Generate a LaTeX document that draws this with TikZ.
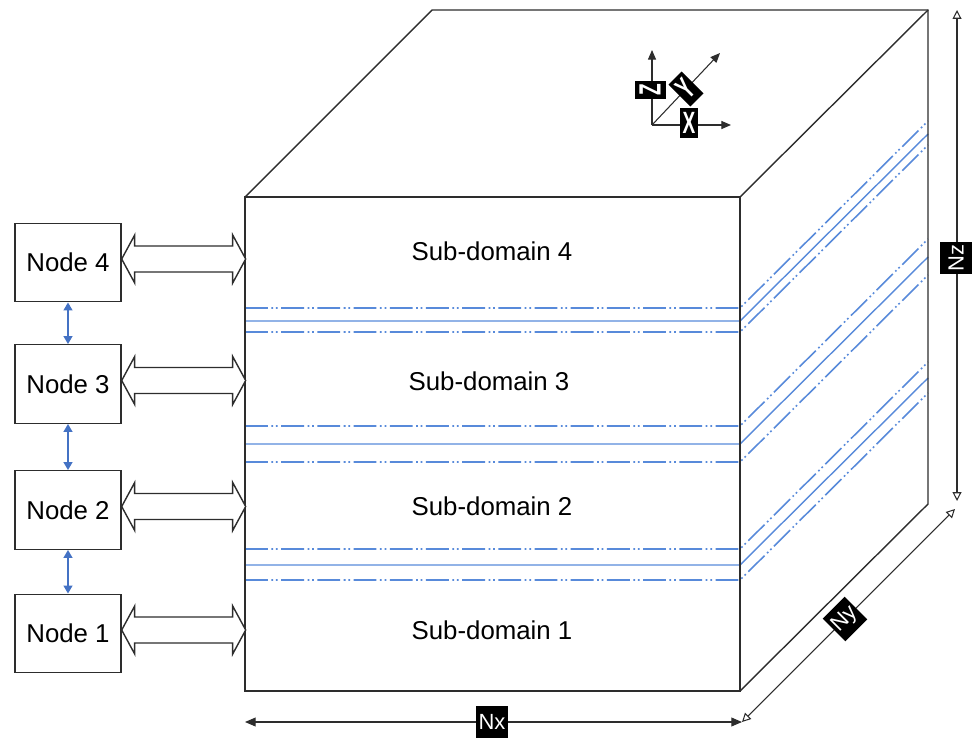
\documentclass[tikz,border=0pt]{standalone}
\usepackage{fontspec}
\usepackage{graphicx}
\setmainfont{Liberation Sans}
\usetikzlibrary{arrows.meta,calc}
\definecolor{ln}{RGB}{45,45,45}
\definecolor{bl}{RGB}{88,138,218}
\definecolor{ba}{RGB}{68,114,196}
\tikzset{
  cubeline/.style={draw=ln, line width=0.8pt},
  nodebox/.style={draw=ln, line width=0.8pt, minimum width=2.12cm, minimum height=1.57cm, inner sep=0pt, font=\fontsize{14.7}{17}\selectfont},
  subtxt/.style={font=\fontsize{14.7}{17}\selectfont, inner sep=0pt},
  dimtag/.style={fill=black, text=white, inner xsep=1.2pt, inner ysep=0pt, minimum height=0.64cm, font=\fontsize{12.5}{13}\selectfont},
  axlab/.style={fill=black, text=white, inner sep=0pt, minimum width=0.37cm, minimum height=0.62cm, font=\fontsize{17.5}{18}\selectfont\bfseries},
  ddd/.style={draw=bl, line width=0.9pt, dash pattern=on 13pt off 2pt on 1pt off 1.6pt on 1pt off 2pt},
  sol/.style={draw=bl, line width=0.8pt},
  hollow/.style={draw=ln, fill=white, line width=0.8pt, line join=miter},
  linkarrow/.style={draw=ba, line width=0.9pt, {Triangle[length=4.5pt,width=5pt]}-{Triangle[length=4.5pt,width=5pt]}},
  dimline/.style={draw=ln, line width=0.6pt},
  axline/.style={draw=ln, line width=0.6pt, -{Triangle[length=5.5pt,width=4.6pt]}},
}
\newcommand{\grp}[3]{%
  \draw[ddd] (245,#1) -- (740,#1) -- ++(188,-187);
  \draw[sol] (245,#2) -- (740,#2) -- ++(188,-187);
  \draw[ddd] (245,#3) -- (740,#3) -- ++(188,-187);
}
\newcommand{\bigarrow}[1]{%
  \draw[hollow] ([yshift=0.07cm]#1.east) -- ++(13,-24) -- ++(0,11) -- ++(98,0) -- ++(0,-11)
    -- ++(13,24) -- ++(-13,24) -- ++(0,-11) -- ++(-98,0) -- ++(0,11) -- cycle;
}
\begin{document}
\begin{tikzpicture}[x=0.02cm, y=-0.02cm]
\useasboundingbox (0,0) rectangle (976,737);
% cube corners
\coordinate (A) at (245,197);
\coordinate (B) at (740,197);
\coordinate (C) at (740,691);
\coordinate (D) at (245,691);
\coordinate (E) at (432,10);
\coordinate (F) at (928,10);
\coordinate (G) at (928,504);
% subdomain lines
\grp{308}{321}{332}
\grp{426}{444}{462}
\grp{549}{565}{580}
% cube
\draw[cubeline, line join=miter] (A) -- (B) -- (C) -- (D) -- cycle;
\draw[cubeline, line join=miter] (A) -- (E) -- (F) -- (G) -- (C);
\draw[cubeline] (B) -- (F);
% sub-domain labels
\node[subtxt] (s4) at (492,251) {Sub-domain 4};
\node[subtxt] (s3) at (489,381) {Sub-domain 3};
\node[subtxt] (s2) at (492,506) {Sub-domain 2};
\node[subtxt] (s1) at (492,630) {Sub-domain 1};
% compute nodes
\node[nodebox] (n4) at (68,262.5) {Node 4};
\node[nodebox] (n3) at (68,384) {Node 3};
\node[nodebox] (n2) at (68,510) {Node 2};
\node[nodebox] (n1) at (68,633.5) {Node 1};
\draw[linkarrow] (n4.south) -- (n3.north);
\draw[linkarrow] (n3.south) -- (n2.north);
\draw[linkarrow] (n2.south) -- (n1.north);
\bigarrow{n4}
\bigarrow{n3}
\bigarrow{n2}
\bigarrow{n1}
% dimension arrows
\coordinate (nxa) at (245,722);
\coordinate (nxb) at (742,722);
\draw[dimline, {Triangle[length=6pt,width=5pt]}-{Triangle[length=6pt,width=5pt]}] (nxa) -- (nxb);
\node[dimtag] (nx) at (492,722) {Nx};
\coordinate (nya) at (742,722);
\coordinate (nyb) at (955,509);
\draw[dimline, {Triangle[open,length=5pt,width=5pt]}-{Triangle[open,length=5pt,width=5pt]}] (nya) -- (nyb);
\node[dimtag, rotate=45] (ny) at (845,619) {Ny};
\coordinate (nza) at (957,10);
\coordinate (nzb) at (957,501);
\draw[dimline, {Triangle[open,length=5pt,width=5pt]}-{Triangle[open,length=5pt,width=5pt]}] (nza) -- (nzb);
\node[dimtag, rotate=90] (nz) at (956,258) {Nz};
% axis glyph
\coordinate (o) at (652,125);
\coordinate (az) at (652,50);
\coordinate (ay) at (720,53);
\coordinate (ax) at (731,125);
\draw[axline] (o) -- (az);
\draw[axline] (o) -- (ay);
\draw[axline] (o) -- (ax);
\node[axlab, rotate=90] (lz) at (650,90) {\scalebox{0.62}[1]{Z}};
\node[axlab, rotate=45] (ly) at (686,89) {\scalebox{0.62}[1]{Y}};
\node[axlab] (lx) at (689,123) {\scalebox{0.62}[1]{X}};
\end{tikzpicture}
\end{document}
